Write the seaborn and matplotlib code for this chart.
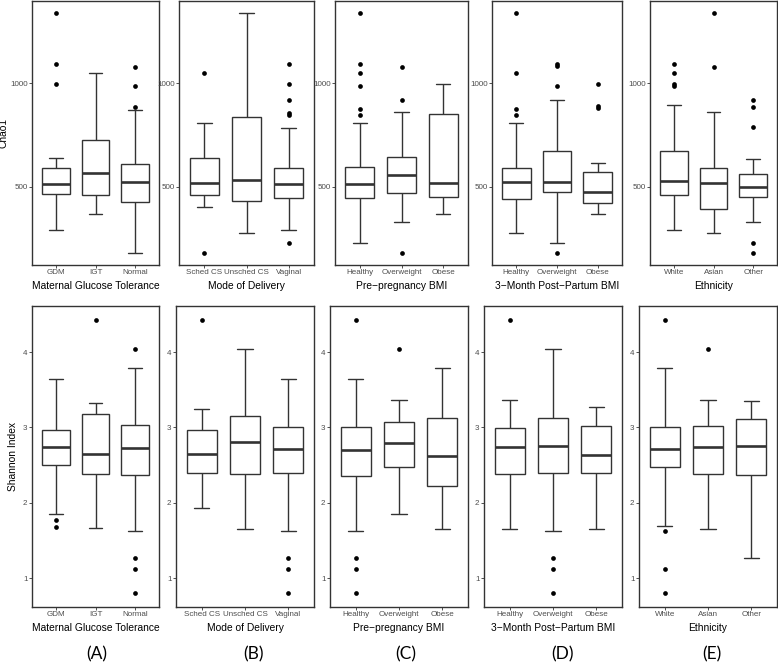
import matplotlib
matplotlib.use("Agg")
import matplotlib.pyplot as plt
import seaborn as sns
import pandas as pd

# ---------------- data (five-number summaries: low whisker, Q1, median, Q3, high whisker) ----
A_title = "Maternal Glucose Tolerance"
A_groups = ["GDM", "IGT", "Normal"]
A_chao1_box = [[295, 466, 516, 591, 641], [372, 463, 566, 728, 1048], [183, 428, 522, 611, 872]]
A_chao1_out = [[998, 1093, 1338], [], [885, 986, 1080]]
A_shannon_box = [[1.85, 2.50, 2.74, 2.97, 3.64], [1.67, 2.38, 2.65, 3.18, 3.33], [1.63, 2.37, 2.73, 3.03, 3.79]]
A_shannon_out = [[1.68, 1.77], [4.43], [0.80, 1.12, 1.27, 4.04]]

B_title = "Mode of Delivery"
B_groups = ["Sched CS", "Unsched CS", "Vaginal"]
B_chao1_box = [[404, 460, 521, 639, 809], [280, 434, 535, 838, 1338], [295, 446, 516, 591, 785]]
B_chao1_out = [[183, 1048], [], [228, 848, 857, 921, 998, 1093]]
B_shannon_box = [[1.93, 2.40, 2.65, 2.97, 3.24], [1.66, 2.38, 2.81, 3.15, 4.04], [1.63, 2.40, 2.72, 3.00, 3.64]]
B_shannon_out = [[4.43], [], [0.80, 1.12, 1.27]]

C_title = "Pre\u2212pregnancy BMI"
C_groups = ["Healthy", "Overweight", "Obese"]
C_chao1_box = [[228, 446, 516, 598, 809], [329, 473, 558, 644, 861], [372, 454, 521, 851, 998]]
C_chao1_out = [[848, 878, 986, 1048, 1093, 1338], [183, 921, 1080], []]
C_shannon_box = [[1.63, 2.36, 2.70, 3.00, 3.64], [1.85, 2.47, 2.79, 3.07, 3.36], [1.66, 2.23, 2.62, 3.13, 3.79]]
C_shannon_out = [[0.80, 1.12, 1.27, 4.43], [4.04], []]

D_title = "3\u2212Month Post\u2212Partum BMI"
D_groups = ["Healthy", "Overweight", "Obese"]
D_chao1_box = [[280, 441, 522, 591, 809], [228, 476, 522, 671, 921], [372, 421, 476, 572, 614]]
D_chao1_out = [[848, 878, 1048, 1338], [183, 986, 1083, 1093], [881, 891, 998]]
D_shannon_box = [[1.66, 2.38, 2.74, 2.99, 3.37], [1.63, 2.39, 2.75, 3.12, 4.04], [1.66, 2.39, 2.63, 3.02, 3.27]]
D_shannon_out = [[4.43], [0.80, 1.12, 1.27], []]

E_title = "Ethnicity"
E_groups = ["White", "Asian", "Other"]
E_chao1_box = [[295, 463, 527, 671, 897], [280, 396, 521, 591, 861], [329, 452, 500, 563, 635]]
E_chao1_out = [[986, 998, 1048, 1093], [1080, 1338], [183, 228, 787, 885, 921]]
E_shannon_box = [[1.69, 2.47, 2.72, 3.00, 3.79], [1.66, 2.38, 2.74, 3.02, 3.37], [1.27, 2.37, 2.76, 3.11, 3.35]]
E_shannon_out = [[0.80, 1.12, 1.63, 4.43], [4.04], []]

panel_tags = ["(A)", "(B)", "(C)", "(D)", "(E)"]

panels = [
    (A_title, A_groups, A_chao1_box, A_chao1_out, A_shannon_box, A_shannon_out),
    (B_title, B_groups, B_chao1_box, B_chao1_out, B_shannon_box, B_shannon_out),
    (C_title, C_groups, C_chao1_box, C_chao1_out, C_shannon_box, C_shannon_out),
    (D_title, D_groups, D_chao1_box, D_chao1_out, D_shannon_box, D_shannon_out),
    (E_title, E_groups, E_chao1_box, E_chao1_out, E_shannon_box, E_shannon_out),
]

# ---------------- style ----------------
sns.set_theme(style="white")
plt.rcParams["font.family"] = ["Liberation Sans", "DejaVu Sans"]

W, H = 778, 665
fig = plt.figure(figsize=(W / 100, H / 100), dpi=100)

top_x = [(32, 159), (179, 314), (335, 468), (492, 622), (650, 777)]
bot_x = [(32, 159), (176, 314), (330, 468), (484, 622), (639, 777)]
top_y = (1, 265)
bot_y = (306, 607)
tag_x = [97, 253, 406, 562, 712]

GREY20 = "#333333"
GREY30 = "#4d4d4d"


def make_ax(xs, ys):
    x0, x1 = xs
    y0, y1 = ys
    return fig.add_axes([x0 / W, 1 - y1 / H, (x1 - x0) / W, (y1 - y0) / H])


def long_df(groups, lists):
    rows = []
    for g, vals in zip(groups, lists):
        for v in vals:
            rows.append({"group": g, "value": v})
    return pd.DataFrame(rows, columns=["group", "value"])


def draw(ax, groups, box, out, ylim, yticks, xlabel, ylabel, ylab_x, xlab_y):
    dfb = long_df(groups, box)
    dfo = long_df(groups, out)
    sns.boxplot(data=dfb, x="group", y="value", order=groups, ax=ax,
                whis=(0, 100), showfliers=False, width=0.7,
                color="white", linecolor=GREY20, linewidth=1.0,
                medianprops={"linewidth": 1.9, "color": GREY20},
                boxprops={"facecolor": "white"})
    if len(dfo):
        sns.stripplot(data=dfo, x="group", y="value", order=groups, ax=ax,
                      jitter=False, color="black", size=3.4, linewidth=0, zorder=5)
    ax.set_xlim(-0.6, len(groups) - 0.4)
    ax.set_ylim(*ylim)
    ax.set_yticks(yticks)
    ax.set_yticklabels([str(t) for t in yticks])
    ax.set_facecolor("white")
    for s in ax.spines.values():
        s.set_visible(True)
        s.set_color(GREY20)
        s.set_linewidth(1.0)
    ax.tick_params(axis="both", which="major", length=2, width=0.6, color=GREY20,
                   labelsize=5.8, labelcolor=GREY30, pad=1.2,
                   bottom=True, left=True)
    ax.set_xlabel(xlabel, fontsize=7.4, color="black")
    ax.xaxis.set_label_coords(0.5, xlab_y)
    if ylabel:
        ax.set_ylabel(ylabel, fontsize=7.4, color="black")
        ax.yaxis.set_label_coords(ylab_x, 0.5)
    else:
        ax.set_ylabel("")


for i, (title, groups, cbox, cout, sbox, sout) in enumerate(panels):
    ax_t = make_ax(top_x[i], top_y)
    draw(ax_t, groups, cbox, cout, (124, 1396), [500, 1000], title,
         "Chao1" if i == 0 else None, -0.185, -0.06)
    ax_b = make_ax(bot_x[i], bot_y)
    draw(ax_b, groups, sbox, sout, (0.62, 4.61), [1, 2, 3, 4], title,
         "Shannon Index" if i == 0 else None, -0.11, -0.053)
    fig.text(tag_x[i] / W, 1 - 654 / H, panel_tags[i], ha="center", va="center",
             fontsize=12.5, family=["Lato", "DejaVu Sans"], color="black")

fig.savefig("out.png", dpi=100, facecolor="white")
